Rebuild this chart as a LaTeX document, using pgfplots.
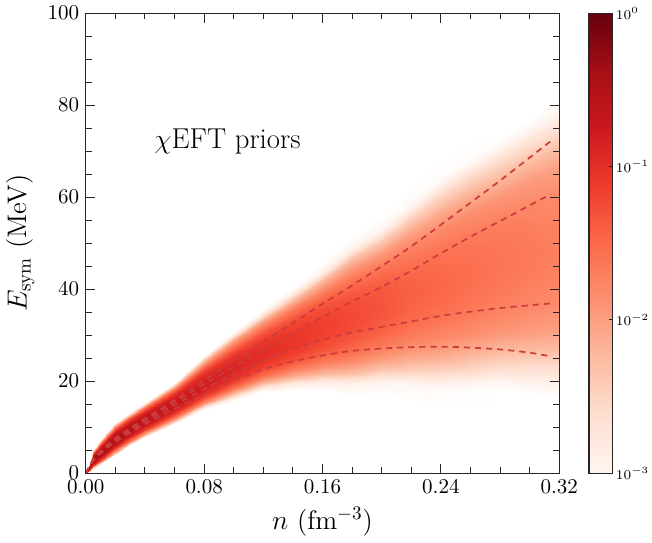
\documentclass[border=0pt]{standalone}
\usepackage{pgfplots}
\pgfplotsset{compat=1.18}
\pgfplotsset{colormap={reds}{rgb255(0pt)=(255,255,255) rgb255(3pt)=(255,245,240) rgb255(6.75pt)=(254,224,210) rgb255(10.5pt)=(252,187,161) rgb255(14.25pt)=(252,146,114) rgb255(18pt)=(251,106,74) rgb255(21.75pt)=(239,59,44) rgb255(25.5pt)=(203,24,29) rgb255(29.25pt)=(165,15,21) rgb255(33pt)=(103,0,13)}}
\pgfplotstableread{
n E m
0 0 -2.95
0 0 -2.05
0 0 -1.40
0 0 -0.95
0 0 -0.65
0 0 -0.47
0 0 -0.38
0 0 -0.35
0 0 -0.38
0 0 -0.47
0 0 -0.65
0 0 -0.95
0 0 -1.40
0 0 -2.05
0 0 -2.95
0.005 0.98 -3.00
0.005 1.25 -2.10
0.005 1.53 -1.45
0.005 1.80 -1.00
0.005 2.08 -0.70
0.005 2.35 -0.52
0.005 2.63 -0.43
0.005 2.90 -0.40
0.005 3.20 -0.43
0.005 3.50 -0.52
0.005 3.80 -0.70
0.005 4.10 -1.00
0.005 4.40 -1.45
0.005 4.70 -2.10
0.005 5.00 -3.00
0.01 1.98 -3.05
0.01 2.35 -2.15
0.01 2.73 -1.50
0.01 3.10 -1.05
0.01 3.48 -0.75
0.01 3.85 -0.57
0.01 4.23 -0.48
0.01 4.60 -0.45
0.01 5.00 -0.48
0.01 5.40 -0.57
0.01 5.80 -0.75
0.01 6.20 -1.05
0.01 6.60 -1.50
0.01 7.00 -2.15
0.01 7.40 -3.05
0.02 3.97 -3.10
0.02 4.46 -2.20
0.02 4.95 -1.55
0.02 5.44 -1.10
0.02 5.93 -0.80
0.02 6.42 -0.62
0.02 6.91 -0.53
0.02 7.40 -0.50
0.02 7.90 -0.53
0.02 8.40 -0.62
0.02 8.90 -0.80
0.02 9.40 -1.10
0.02 9.90 -1.55
0.02 10.40 -2.20
0.02 10.90 -3.10
0.03 6.03 -3.15
0.03 6.54 -2.25
0.03 7.05 -1.60
0.03 7.56 -1.15
0.03 8.07 -0.85
0.03 8.58 -0.67
0.03 9.09 -0.58
0.03 9.60 -0.55
0.03 10.13 -0.58
0.03 10.65 -0.67
0.03 11.18 -0.85
0.03 11.70 -1.15
0.03 12.23 -1.60
0.03 12.75 -2.25
0.03 13.28 -3.15
0.04 7.86 -3.20
0.04 8.39 -2.30
0.04 8.93 -1.65
0.04 9.46 -1.20
0.04 10.00 -0.90
0.04 10.53 -0.72
0.04 11.07 -0.63
0.04 11.60 -0.60
0.04 12.15 -0.63
0.04 12.70 -0.72
0.04 13.25 -0.90
0.04 13.80 -1.20
0.04 14.35 -1.65
0.04 14.90 -2.30
0.04 15.45 -3.20
0.06 10.65 -3.30
0.06 11.30 -2.40
0.06 11.95 -1.75
0.06 12.60 -1.30
0.06 13.25 -1.00
0.06 13.90 -0.82
0.06 14.55 -0.73
0.06 15.20 -0.70
0.06 15.88 -0.73
0.06 16.55 -0.82
0.06 17.23 -1.00
0.06 17.90 -1.30
0.06 18.58 -1.75
0.06 19.25 -2.40
0.06 19.93 -3.30
0.08 13.78 -3.40
0.08 14.55 -2.50
0.08 15.33 -1.85
0.08 16.10 -1.40
0.08 16.88 -1.10
0.08 17.65 -0.92
0.08 18.43 -0.83
0.08 19.20 -0.80
0.08 20.13 -0.83
0.08 21.05 -0.92
0.08 21.98 -1.10
0.08 22.90 -1.40
0.08 23.83 -1.85
0.08 24.75 -2.50
0.08 25.68 -3.40
0.10 15.80 -3.50
0.10 16.80 -2.60
0.10 17.80 -1.95
0.10 18.80 -1.50
0.10 19.80 -1.20
0.10 20.80 -1.02
0.10 21.80 -0.93
0.10 22.80 -0.90
0.10 23.98 -0.93
0.10 25.15 -1.02
0.10 26.33 -1.20
0.10 27.50 -1.50
0.10 28.68 -1.95
0.10 29.85 -2.60
0.10 31.03 -3.50
0.12 17.60 -3.58
0.12 18.80 -2.68
0.12 20.00 -2.03
0.12 21.20 -1.58
0.12 22.40 -1.28
0.12 23.60 -1.10
0.12 24.80 -1.01
0.12 26.00 -0.98
0.12 27.40 -1.01
0.12 28.80 -1.10
0.12 30.20 -1.28
0.12 31.60 -1.58
0.12 33.00 -2.03
0.12 34.40 -2.68
0.12 35.80 -3.58
0.14 17.95 -3.66
0.14 19.50 -2.76
0.14 21.05 -2.11
0.14 22.60 -1.66
0.14 24.15 -1.36
0.14 25.70 -1.18
0.14 27.25 -1.09
0.14 28.80 -1.06
0.14 30.50 -1.09
0.14 32.20 -1.18
0.14 33.90 -1.36
0.14 35.60 -1.66
0.14 37.30 -2.11
0.14 39.00 -2.76
0.14 40.70 -3.66
0.16 17.85 -3.74
0.16 19.80 -2.84
0.16 21.75 -2.19
0.16 23.70 -1.74
0.16 25.65 -1.44
0.16 27.60 -1.26
0.16 29.55 -1.17
0.16 31.50 -1.14
0.16 33.55 -1.17
0.16 35.60 -1.26
0.16 37.65 -1.44
0.16 39.70 -1.74
0.16 41.75 -2.19
0.16 43.80 -2.84
0.16 45.85 -3.74
0.18 16.85 -3.83
0.18 19.30 -2.93
0.18 21.75 -2.28
0.18 24.20 -1.83
0.18 26.65 -1.53
0.18 29.10 -1.35
0.18 31.55 -1.26
0.18 34.00 -1.23
0.18 36.50 -1.26
0.18 39.00 -1.35
0.18 41.50 -1.53
0.18 44.00 -1.83
0.18 46.50 -2.28
0.18 49.00 -2.93
0.18 51.50 -3.83
0.20 16.90 -3.92
0.20 19.70 -3.02
0.20 22.50 -2.37
0.20 25.30 -1.92
0.20 28.10 -1.62
0.20 30.90 -1.44
0.20 33.70 -1.35
0.20 36.50 -1.32
0.20 39.30 -1.35
0.20 42.10 -1.44
0.20 44.90 -1.62
0.20 47.70 -1.92
0.20 50.50 -2.37
0.20 53.30 -3.02
0.20 56.10 -3.92
0.22 15.70 -4.02
0.22 19.00 -3.12
0.22 22.30 -2.47
0.22 25.60 -2.02
0.22 28.90 -1.72
0.22 32.20 -1.54
0.22 35.50 -1.45
0.22 38.80 -1.42
0.22 42.15 -1.45
0.22 45.50 -1.54
0.22 48.85 -1.72
0.22 52.20 -2.02
0.22 55.55 -2.47
0.22 58.90 -3.12
0.22 62.25 -4.02
0.24 14.26 -4.08
0.24 18.08 -3.18
0.24 21.90 -2.53
0.24 25.72 -2.08
0.24 29.54 -1.78
0.24 33.36 -1.60
0.24 37.18 -1.51
0.24 41.00 -1.48
0.24 44.91 -1.51
0.24 48.82 -1.60
0.24 52.73 -1.78
0.24 56.64 -2.08
0.24 60.55 -2.53
0.24 64.46 -3.18
0.24 68.37 -4.08
0.26 13.60 -4.14
0.26 17.90 -3.24
0.26 22.10 -2.59
0.26 26.30 -2.14
0.26 30.21 -1.84
0.26 34.57 -1.66
0.26 38.94 -1.57
0.26 43.30 -1.54
0.26 47.67 -1.57
0.26 52.03 -1.66
0.26 56.40 -1.84
0.26 60.50 -2.14
0.26 64.60 -2.59
0.26 68.80 -3.24
0.26 73.00 -4.14
0.28 13.20 -4.20
0.28 18.00 -3.30
0.28 22.40 -2.65
0.28 26.90 -2.20
0.28 30.85 -1.90
0.28 35.73 -1.72
0.28 40.62 -1.63
0.28 45.50 -1.60
0.28 50.30 -1.63
0.28 55.09 -1.72
0.28 59.89 -1.90
0.28 64.00 -2.20
0.28 68.50 -2.65
0.28 73.00 -3.30
0.28 77.50 -4.20
0.30 11.80 -4.25
0.30 17.00 -3.35
0.30 22.00 -2.70
0.30 26.80 -2.25
0.30 31.12 -1.95
0.30 36.51 -1.77
0.30 41.91 -1.68
0.30 47.30 -1.65
0.30 52.61 -1.68
0.30 57.91 -1.77
0.30 63.22 -1.95
0.30 67.60 -2.25
0.30 72.40 -2.70
0.30 77.30 -3.35
0.30 82.30 -4.25
0.32 10.50 -4.30
0.32 16.00 -3.40
0.32 21.30 -2.75
0.32 26.60 -2.30
0.32 31.33 -2.00
0.32 37.22 -1.82
0.32 43.11 -1.73
0.32 49.00 -1.70
0.32 54.81 -1.73
0.32 60.61 -1.82
0.32 66.42 -2.00
0.32 71.00 -2.30
0.32 76.20 -2.75
0.32 81.50 -3.40
0.32 87.00 -4.30
}\density
\pgfplotstableread{
x y m
0 -3 -3
1 -3 -3
0 -2.625 -2.625
1 -2.625 -2.625
0 -2.25 -2.25
1 -2.25 -2.25
0 -1.875 -1.875
1 -1.875 -1.875
0 -1.5 -1.5
1 -1.5 -1.5
0 -1.125 -1.125
1 -1.125 -1.125
0 -0.75 -0.75
1 -0.75 -0.75
0 -0.375 -0.375
1 -0.375 -0.375
0 0 0
1 0 0
}\cbar
\definecolor{dashred}{RGB}{205,60,60}
\begin{document}
\begin{tikzpicture}
\begin{axis}[
  name=main,
  scale only axis,
  width=247pt, height=240pt,
  xmin=0, xmax=0.32, ymin=0, ymax=100,
  xtick={0,0.08,0.16,0.24,0.32},
  ytick={0,20,40,60,80,100},
  minor x tick num=3, minor y tick num=3,
  tick align=inside,
  major tick length=5pt, minor tick length=3pt,
  xticklabel style={/pgf/number format/.cd, fixed, fixed zerofill, precision=2},
  scaled x ticks=false,
  tick label style={font=\fontsize{11}{13}\selectfont},
  xlabel={$n$ (fm$^{-3}$)},
  ylabel={$E_{\rm sym}$ (MeV)},
  label style={font=\fontsize{14}{17}\selectfont},
  axis line style={line width=0.6pt, black!85},
  every tick/.style={black!85, line width=0.5pt},
  axis on top,
  colormap name=reds,
  point meta min=-3.3, point meta max=0,
]
\addplot[surf, shader=interp, mesh/cols=15, point meta=explicit] table[x=n, y=E, meta=m] {\density};

\addplot[dashred, line width=0.9pt, dash pattern=on 3.2pt off 2.6pt, smooth] coordinates {
(0,0) (0.005,3.0) (0.01,4.8) (0.02,7.6) (0.04,11.9) (0.06,15.9) (0.08,20.2) (0.10,24.4) (0.12,28.6) (0.14,32.7) (0.16,36.8) (0.18,40.8) (0.20,45.0) (0.22,49.3) (0.24,54.0) (0.26,58.8) (0.28,63.6) (0.30,68.6) (0.314,72.1)};
\addplot[dashred, line width=0.9pt, dash pattern=on 3.2pt off 2.6pt, smooth] coordinates {
(0,0) (0.005,2.9) (0.01,4.7) (0.02,7.4) (0.04,11.6) (0.06,15.4) (0.08,19.4) (0.10,23.1) (0.12,26.8) (0.14,30.4) (0.16,34.0) (0.18,37.3) (0.20,40.5) (0.22,44.0) (0.24,47.8) (0.26,51.4) (0.28,54.8) (0.30,58.2) (0.314,60.6)};
\addplot[dashred, line width=0.9pt, dash pattern=on 3.2pt off 2.6pt, smooth] coordinates {
(0,0) (0.005,2.8) (0.01,4.5) (0.02,7.1) (0.04,11.1) (0.06,14.8) (0.08,18.3) (0.10,21.5) (0.12,24.5) (0.14,27.0) (0.16,29.0) (0.18,30.6) (0.20,31.8) (0.22,33.0) (0.24,34.2) (0.26,35.1) (0.28,35.9) (0.30,36.5) (0.314,36.9)};
\addplot[dashred, line width=0.9pt, dash pattern=on 3.2pt off 2.6pt, smooth] coordinates {
(0,0) (0.005,2.7) (0.01,4.3) (0.02,6.8) (0.04,10.6) (0.06,14.0) (0.08,17.1) (0.10,20.0) (0.12,22.6) (0.14,24.3) (0.16,25.6) (0.18,26.6) (0.20,27.1) (0.22,27.4) (0.24,27.5) (0.26,27.3) (0.28,26.9) (0.30,26.2) (0.314,25.4)};

\node[anchor=west, font=\fontsize{15}{18}\selectfont] at (axis cs:0.042,72) {$\chi$EFT priors};
\end{axis}
\begin{axis}[
  at={(main.north east)}, anchor=north west, xshift=15.5pt,
  scale only axis,
  width=12.4pt, height=240pt,
  xmin=0, xmax=1, ymin=-3, ymax=0,
  xtick=\empty,
  ytick={-3,-2,-1,0},
  yticklabels={$10^{-3}$,$10^{-2}$,$10^{-1}$,$10^{0}$},
  ytick pos=right, yticklabel pos=right,
  yticklabel style={font=\scriptsize, inner sep=1.5pt},
  tick align=inside,
  major tick length=2pt,
  every tick/.style={black!85, line width=0.5pt},
  axis line style={line width=0.6pt, black!85},
  axis on top,
  colormap name=reds,
  point meta min=-3.3, point meta max=0,
]
\addplot[surf, shader=interp, mesh/cols=2, point meta=explicit] table[x=x, y=y, meta=m] {\cbar};
\end{axis}
\end{tikzpicture}
\end{document}
